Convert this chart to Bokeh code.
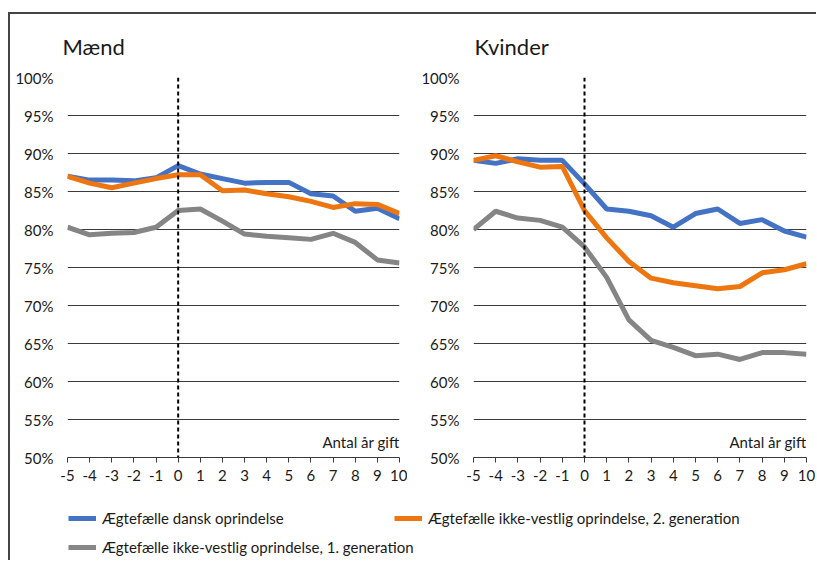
from bokeh.plotting import figure
from bokeh.layouts import row, column
from bokeh.models import (Range1d, FixedTicker, PrintfTickFormatter, Span, Label,
                          Legend, LegendItem)
from bokeh.embed import file_html
from bokeh.resources import INLINE

years = [-5, -4, -3, -2, -1, 0, 1, 2, 3, 4, 5, 6, 7, 8, 9, 10]
y_ticks = [50, 55, 60, 65, 70, 75, 80, 85, 90, 95, 100]

maend_dansk = [87.0, 86.5, 86.5, 86.4, 86.8, 88.4, 87.3, 86.7, 86.1, 86.2, 86.2, 84.7, 84.4, 82.4, 82.8, 81.4]
maend_ikke2 = [87.0, 86.1, 85.5, 86.1, 86.7, 87.2, 87.2, 85.1, 85.2, 84.7, 84.3, 83.7, 82.9, 83.4, 83.3, 82.1]
maend_ikke1 = [80.3, 79.3, 79.5, 79.6, 80.3, 82.5, 82.7, 81.1, 79.4, 79.1, 78.9, 78.7, 79.5, 78.3, 76.0, 75.6]

kvinder_dansk = [89.1, 88.7, 89.3, 89.1, 89.1, 86.0, 82.7, 82.4, 81.8, 80.3, 82.1, 82.7, 80.8, 81.3, 79.8, 79.0]
kvinder_ikke2 = [89.1, 89.7, 88.9, 88.2, 88.3, 82.5, 78.9, 75.8, 73.6, 73.0, 72.6, 72.2, 72.5, 74.3, 74.7, 75.5]
kvinder_ikke1 = [80.0, 82.4, 81.5, 81.2, 80.3, 77.7, 73.7, 68.1, 65.4, 64.5, 63.4, 63.6, 62.9, 63.8, 63.8, 63.6]

series_names = ["Ægtefælle dansk oprindelse",
                "Ægtefælle ikke-vestlig oprindelse, 2. generation",
                "Ægtefælle ikke-vestlig oprindelse, 1. generation"]
colors = ["#4472C4", "#EE7611", "#858585"]

FONT = "Lato"
TXT = "#1a1a1a"
GRID = "#3a3a3a"


def make_panel(title, series, width, left, right, title_off):
    p = figure(width=width, height=483, output_backend="svg", toolbar_location=None,
               x_range=Range1d(-5, 10), y_range=Range1d(50, 100),
               min_border_left=left, min_border_right=right,
               min_border_top=63, min_border_bottom=40)
    p.outline_line_color = None
    p.background_fill_color = None
    p.border_fill_color = None
    p.xgrid.visible = False
    p.ygrid.ticker = FixedTicker(ticks=y_ticks)
    p.ygrid.grid_line_color = GRID
    p.ygrid.grid_line_width = 1

    p.title.text = title
    p.title.text_font = FONT
    p.title.text_font_size = "22px"
    p.title.text_font_style = "normal"
    p.title.text_color = TXT
    p.title.align = "left"
    p.title.vertical_align = "top"
    p.title.offset = title_off
    p.title.standoff = 32

    xa = p.xaxis[0]
    xa.ticker = FixedTicker(ticks=years)
    xa.formatter = PrintfTickFormatter(format="%d")
    xa.axis_line_color = GRID
    xa.axis_line_width = 1
    xa.major_tick_line_color = GRID
    xa.major_tick_out = 5
    xa.major_tick_in = 0
    xa.minor_tick_line_color = None
    xa.major_label_standoff = 7
    xa.major_label_text_font = FONT
    xa.major_label_text_font_size = "15px"
    xa.major_label_text_color = TXT

    ya = p.yaxis[0]
    ya.ticker = FixedTicker(ticks=y_ticks)
    ya.formatter = PrintfTickFormatter(format="%d%%")
    ya.axis_line_color = None
    ya.major_tick_line_color = None
    ya.minor_tick_line_color = None
    ya.major_label_standoff = 8
    ya.major_label_text_font = FONT
    ya.major_label_text_font_size = "15px"
    ya.major_label_text_color = TXT

    p.add_layout(Span(location=0, dimension="height", line_color="black",
                      line_width=2, line_dash="4 3"))

    for vals, c in zip(series, colors):
        p.line(years, vals, line_color=c, line_width=5)

    p.add_layout(Label(x=10, y=52.0, text="Antal år gift", text_font=FONT,
                       text_font_size="15px", text_color=TXT,
                       text_align="right", text_baseline="middle"))
    return p


p1 = make_panel("Mænd", [maend_dansk, maend_ikke2, maend_ikke1], 397, 57, 8, -5)
p2 = make_panel("Kvinder", [kvinder_dansk, kvinder_ikke2, kvinder_ikke1], 409, 66, 10, 1)

# legend strip
pl = figure(width=806, height=63, output_backend="svg", toolbar_location=None,
            x_range=Range1d(0, 1), y_range=Range1d(0, 1),
            x_axis_location=None, y_axis_location=None,
            min_border=0)
pl.outline_line_color = None
pl.grid.visible = False
pl.background_fill_color = None
pl.border_fill_color = None
rends = [pl.line(years, vals, line_color=c, line_width=5)
         for vals, c in zip([maend_dansk, maend_ikke2, maend_ikke1], colors)]


def mk_legend(items, loc):
    lg = Legend(items=items, location=loc, orientation="vertical",
                padding=0, margin=0, spacing=9, border_line_color=None,
                background_fill_alpha=0, glyph_width=28, glyph_height=20,
                label_height=20, label_standoff=6,
                label_text_font=FONT, label_text_font_size="15px",
                label_text_color=TXT)
    return lg


leg1 = mk_legend([LegendItem(label=series_names[0], renderers=[rends[0]]),
                  LegendItem(label=series_names[2], renderers=[rends[2]])], (58, 3))
leg2 = mk_legend([LegendItem(label=series_names[1], renderers=[rends[1]])], (384, 32))
pl.add_layout(leg1)
pl.add_layout(leg2)

layout = column(row(p1, p2), pl,
                styles={"border-left": "2px solid #444", "border-top": "2px solid #444",
                        "margin-top": "12px", "margin-left": "8px"})

open("out.html", "w").write(file_html(layout, INLINE))
